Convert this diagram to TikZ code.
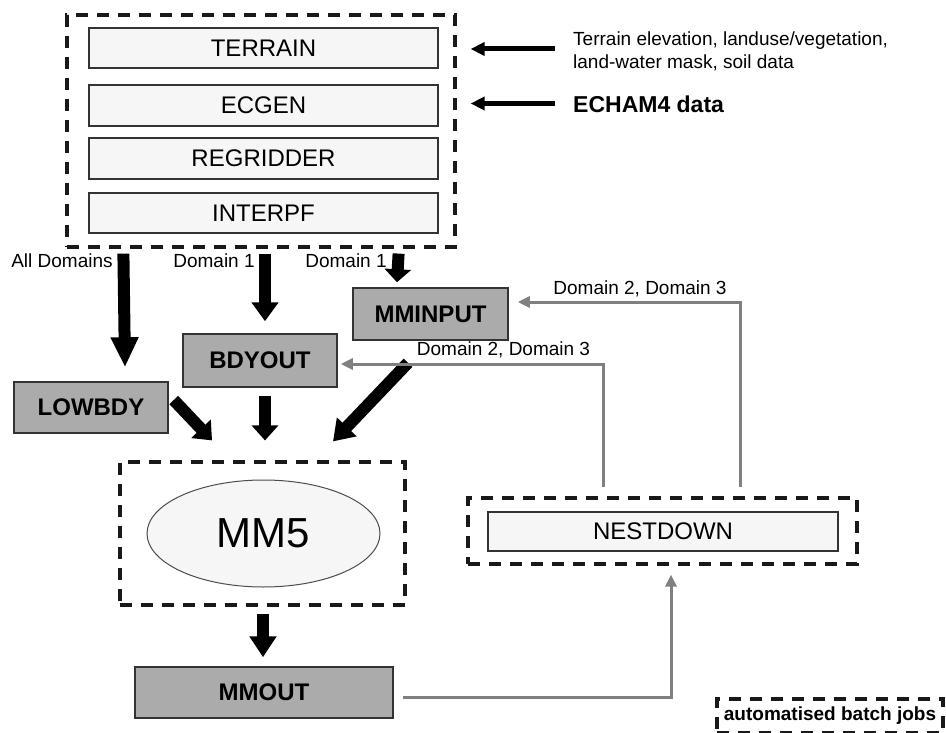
\documentclass[tikz,border=0pt]{standalone}
\usepackage{fontspec}
\setmainfont{Liberation Sans}
\usepackage{xcolor}
\usepackage{tikz}
\usetikzlibrary{arrows.meta}
\usetikzlibrary{shapes.geometric}
\usetikzlibrary{calc}
\definecolor{boxgrey}{HTML}{ABABAB}
\definecolor{boxlight}{HTML}{F6F6F6}
\definecolor{linegrey}{HTML}{808080}
\tikzset{
    tnode/.style = {align=center, inner sep=0pt, text centered},
    light_box/.style = {tnode, rectangle, draw=black!80, fill=boxlight, line width=1.5pt, font=\fontsize{24}{28}\selectfont},
    grey_box/.style = {tnode, rectangle, draw=black!80, fill=boxgrey, line width=1.5pt, minimum width=155pt, minimum height=52pt, font=\fontsize{24}{28}\selectfont\bfseries},
    batch_box/.style = {tnode, rectangle, draw=black!90, line width=3.2pt, dash pattern=on 12pt off 9pt},
    dom_label/.style = {tnode, font=\fontsize{19}{23}\selectfont}
}
\tikzset{
    big_arrow/.style = {-{Triangle[width=26pt, length=#1]}, line width=12pt, black},
    big_arrow/.default = 22pt,
    in_arrow/.style = {-{Triangle[width=13pt, length=14pt]}, line width=5pt, black},
    grey_arrow/.style = {-{Triangle[width=11pt, length=12pt]}, line width=3pt, linegrey}
}
\begin{document}
\begin{tikzpicture}[x=1pt, y=1pt]
\useasboundingbox (0,0) rectangle (946,-733);

% preprocessing chain
\node [batch_box, minimum width=388pt, minimum height=232pt] (prep) at (261,-131) {};
\node [light_box, minimum width=349pt, minimum height=40pt] (terrain) at (263.5,-48) {TERRAIN};
\node [light_box, minimum width=349pt, minimum height=41pt] (ecgen) at (263.5,-105.5) {ECGEN};
\node [light_box, minimum width=349pt, minimum height=41pt] (regridder) at (263.5,-158.5) {REGRIDDER};
\node [light_box, minimum width=349pt, minimum height=40pt] (interpf) at (263.5,-213) {INTERPF};

% input data
\node [inner sep=0pt, anchor=west, align=left, font=\fontsize{19}{23}\selectfont] (terrdata) at (573,-51.5)
    {Terrain elevation, landuse/vegetation,\\land-water mask, soil data};
\node [inner sep=0pt, anchor=west, font=\fontsize{23}{27}\selectfont\bfseries] (echam) at (573,-104) {ECHAM4 data};
\draw [in_arrow] ($(terrain.east -| terrdata.west)+(-18,-1)$) -- ($(terrain.east -| prep.east)+(14,-1)$);
\draw [in_arrow] ($(ecgen.east -| echam.west)+(-18,2)$) -- ($(ecgen.east -| prep.east)+(14,2)$);

% boundary and input files
\node [grey_box] (mminput) at (430.5,-314) {MMINPUT};
\node [grey_box, minimum width=154pt, minimum height=53pt] (bdyout) at (260,-360.5) {BDYOUT};
\node [grey_box, minimum width=154pt, minimum height=51pt] (lowbdy) at (91,-407.5) {LOWBDY};

\node [dom_label] (alldom) at (62,-261) {All Domains};
\node [dom_label] (dom1a) at (214,-261) {Domain 1};
\node [dom_label] (dom1b) at (346,-261) {Domain 1};

% model run
\node [batch_box, minimum width=285pt, minimum height=143pt] (mmbox) at (262.5,-533.5) {};
\node [ellipse, draw=black!70, fill=boxlight, line width=1pt, minimum width=233pt, minimum height=107pt,
       font=\fontsize{42}{48}\selectfont] (mm5) at (263.5,-533.5) {MM5};
\node [grey_box, minimum width=258pt, minimum height=51pt] (mmout) at (264,-692.5) {MMOUT};

% nesting
\node [batch_box, minimum width=389pt, minimum height=66pt] (nestbox) at (662.5,-531) {};
\node [light_box, minimum width=350pt, minimum height=39pt] (nestdown) at (663,-531.5) {NESTDOWN};

\node [dom_label] (dom23a) at (503.5,-350) {Domain 2, Domain 3};
\node [dom_label] (dom23b) at (640,-289) {Domain 2, Domain 3};

% legend
\node [batch_box, minimum width=226pt, minimum height=34pt, font=\fontsize{19}{23}\selectfont\bfseries] (legend) at (830,-716) {automatised batch jobs};

% flow
\draw [big_arrow=30pt] ($(prep.south west)+(58,-5)$) -- ($(lowbdy.north)+(34,14)$);
\draw [big_arrow=19pt] ($(prep.south)+(4,-5)$) -- ($(bdyout.north)+(5,12)$);
\draw [big_arrow=13pt] ($(prep.south east)+(-58,-5)$) -- ($(mminput.north)+(-33.5,5)$);
\draw [big_arrow=16pt] ($(lowbdy.east)+(5,7.5)$) -- ($(mmbox.north)+(-50.5,20)$);
\draw [big_arrow=15pt] ($(bdyout.south)+(5,-8)$) -- ($(mmbox.north)+(2.5,20)$);
\draw [big_arrow=20pt] ($(mminput.south)+(-22.5,-22)$) -- ($(mmbox.north)+(70.5,19)$);
\draw [big_arrow=21pt] ($(mmbox.south)+(0.5,-7)$) -- ($(mmout.north)+(-1,9)$);

\draw [grey_arrow] ($(nestbox.north)+(-59.5,9)$) |- ($(bdyout.east)+(3,-3.5)$);
\draw [grey_arrow] ($(nestbox.north)+(77.5,9)$) |- ($(mminput.east)+(9,12)$);
\draw [grey_arrow] ($(mmout.east)+(9,-4.5)$) -| ($(nestbox.south)+(8.5,-9)$);
\end{tikzpicture}
\end{document}
